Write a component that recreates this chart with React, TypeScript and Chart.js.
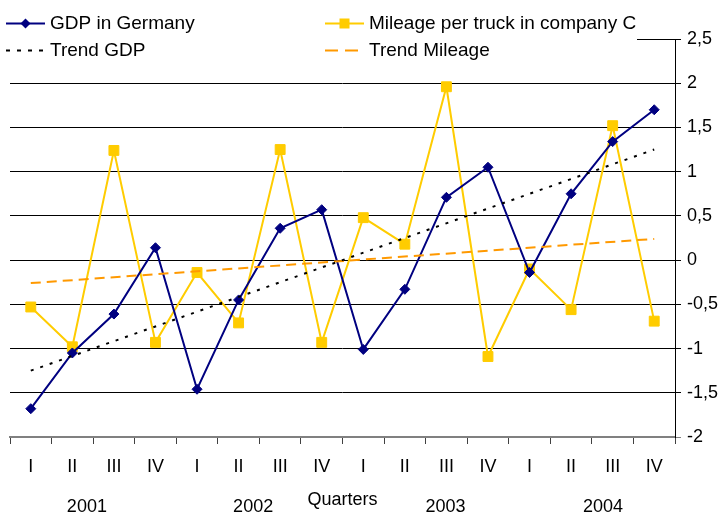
import { useEffect, useRef } from 'react';
import { Chart, registerables } from 'chart.js';

Chart.register(...registerables);

const FONT = '"Liberation Sans", Arial, Helvetica, sans-serif';

const quarters = ['I', 'II', 'III', 'IV', 'I', 'II', 'III', 'IV', 'I', 'II', 'III', 'IV', 'I', 'II', 'III', 'IV'];
const years = ['2001', '2002', '2003', '2004'];
// position of each year label, in category-index units
const yearPositions = [1.35, 5.35, 9.98, 13.77];
const yTicks = [-2, -1.5, -1, -0.5, 0, 0.5, 1, 1.5, 2, 2.5];

const gdpGermany = [-1.68, -1.05, -0.61, 0.14, -1.46, -0.45, 0.36, 0.57, -1.01, -0.33, 0.71, 1.05, -0.14, 0.75, 1.34, 1.70];
const mileageTruck = [-0.53, -0.98, 1.24, -0.93, -0.14, -0.71, 1.25, -0.93, 0.48, 0.18, 1.96, -1.09, -0.10, -0.56, 1.52, -0.69];
const trendGdp = [-1.25, null, null, null, null, null, null, null, null, null, null, null, null, null, null, 1.25];
const trendMileage = [-0.26, null, null, null, null, null, null, null, null, null, null, null, null, null, null, 0.24];

const NAVY = '#000080';
const YELLOW = '#FFCC00';
const ORANGE = '#FF9900';

const legendPlugin = {
  id: 'boxLegend',
  afterDraw(chart: any) {
    const ctx = chart.ctx as CanvasRenderingContext2D;
    ctx.save();
    ctx.fillStyle = '#ffffff';
    ctx.fillRect(0, 0, 637, 62);
    const cols = [6, 325];
    const rows = [23, 50];
    const lineLen = 39;
    const ds = chart.data.datasets;
    const order = [0, 1, 2, 3];
    order.forEach((di, k) => {
      const d = ds[di];
      const x = cols[k % 2];
      const y = rows[Math.floor(k / 2)];
      ctx.save();
      ctx.strokeStyle = d.borderColor;
      ctx.lineWidth = d.borderWidth;
      ctx.setLineDash(d.legendDash || []);
      ctx.beginPath();
      ctx.moveTo(x, y + 0.5);
      ctx.lineTo(x + lineLen, y + 0.5);
      ctx.stroke();
      ctx.setLineDash([]);
      const cx = x + lineLen / 2;
      if (d.pointStyle === 'rectRot') {
        const r = 5;
        ctx.fillStyle = d.pointBackgroundColor;
        ctx.beginPath();
        ctx.moveTo(cx, y + 0.5 - r);
        ctx.lineTo(cx + r, y + 0.5);
        ctx.lineTo(cx, y + 0.5 + r);
        ctx.lineTo(cx - r, y + 0.5);
        ctx.closePath();
        ctx.fill();
      } else if (d.pointStyle === 'rect' && d.pointRadius > 0) {
        ctx.fillStyle = d.pointBackgroundColor;
        ctx.fillRect(cx - 5, y + 0.5 - 5, 10, 10);
      }
      ctx.restore();
      ctx.fillStyle = '#000';
      ctx.font = '19px ' + FONT;
      ctx.textBaseline = 'middle';
      ctx.textAlign = 'left';
      ctx.fillText(d.label, x + lineLen + 5, y + 1);
    });
    ctx.restore();
  },
};

const yearPlugin = {
  id: 'yearLabels',
  afterDraw(chart: any) {
    const ctx = chart.ctx as CanvasRenderingContext2D;
    const xs = chart.scales.x;
    ctx.save();
    ctx.fillStyle = '#000';
    ctx.font = '18px ' + FONT;
    ctx.textAlign = 'center';
    ctx.textBaseline = 'middle';
    years.forEach((yr, i) => {
      ctx.fillText(yr, xs.getPixelForValue(yearPositions[i]), 507);
    });
    ctx.restore();
  },
};

export default function App() {
  const ref = useRef<HTMLCanvasElement | null>(null);
  useEffect(() => {
    if (!ref.current) return;
    const chart = new Chart(ref.current, {
      type: 'line',
      data: {
        labels: quarters,
        datasets: [
          {
            label: 'GDP in Germany',
            data: gdpGermany,
            borderColor: NAVY,
            backgroundColor: NAVY,
            pointBackgroundColor: NAVY,
            pointBorderColor: NAVY,
            borderWidth: 2,
            pointStyle: 'rectRot',
            pointRadius: 5,
            pointBorderWidth: 1,
            tension: 0,
            order: 1,
          } as any,
          {
            label: 'Mileage per truck in company C',
            data: mileageTruck,
            borderColor: YELLOW,
            backgroundColor: YELLOW,
            pointBackgroundColor: YELLOW,
            pointBorderColor: YELLOW,
            borderWidth: 2,
            pointStyle: 'rect',
            pointRadius: 7,
            pointBorderWidth: 1,
            tension: 0,
            order: 2,
          } as any,
          {
            label: 'Trend GDP',
            data: trendGdp,
            borderColor: '#000000',
            borderWidth: 2,
            borderDash: [3, 7],
            legendDash: [4, 7],
            pointRadius: 0,
            spanGaps: true,
            order: 0,
          } as any,
          {
            label: 'Trend Mileage',
            data: trendMileage,
            borderColor: ORANGE,
            borderWidth: 2,
            borderDash: [10, 6],
            legendDash: [13, 7],
            pointRadius: 0,
            spanGaps: true,
            order: 0,
          } as any,
        ],
      },
      options: {
        animation: false,
        responsive: false,
        maintainAspectRatio: false,
        layout: { padding: { left: 10, top: 39, right: 0, bottom: 0 } },
        plugins: {
          legend: { display: false },
          tooltip: { enabled: false },
        },
        scales: {
          x: {
            type: 'category',
            offset: true,
            grid: {
              display: true,
              drawOnChartArea: false,
              drawTicks: true,
              tickLength: 7,
              offset: true,
              color: '#404040',
              lineWidth: 1,
            },
            border: { display: true, color: '#808080', width: 2 },
            ticks: {
              color: '#000',
              font: { family: FONT, size: 18 },
              padding: 12,
              maxRotation: 0,
              autoSkip: false,
            },
            title: {
              display: true,
              text: 'Quarters',
              color: '#000',
              font: { family: FONT, size: 18 },
              padding: { top: 0, bottom: 2 },
            },
            afterFit: (s: any) => {
              s.height = 76;
            },
          },
          y: {
            position: 'right',
            min: -2,
            max: 2.5,
            afterBuildTicks: (s: any) => {
              s.ticks = yTicks.map((v) => ({ value: v }));
            },
            ticks: {
              color: '#000',
              font: { family: FONT, size: 18 },
              padding: 6,
              crossAlign: 'near',
              callback: (v: any) => String(v).replace('.', ','),
            },
            grid: {
              color: (c: any) => (c.tick && c.tick.value === -2 ? '#808080' : '#000000'),
              lineWidth: 1,
              tickLength: 6,
              drawTicks: true,
            },
            border: { display: true, color: '#000', width: 1 },
            afterFit: (s: any) => {
              s.width = 48;
            },
          },
        },
      },
      plugins: [legendPlugin, yearPlugin],
    });
    return () => chart.destroy();
  }, []);
  return (
    <div style={{ position: 'fixed', left: 0, top: 0, width: 723, height: 513, background: '#fff' }}>
      <canvas ref={ref} width={723} height={513} style={{ display: 'block' }} />
    </div>
  );
}
